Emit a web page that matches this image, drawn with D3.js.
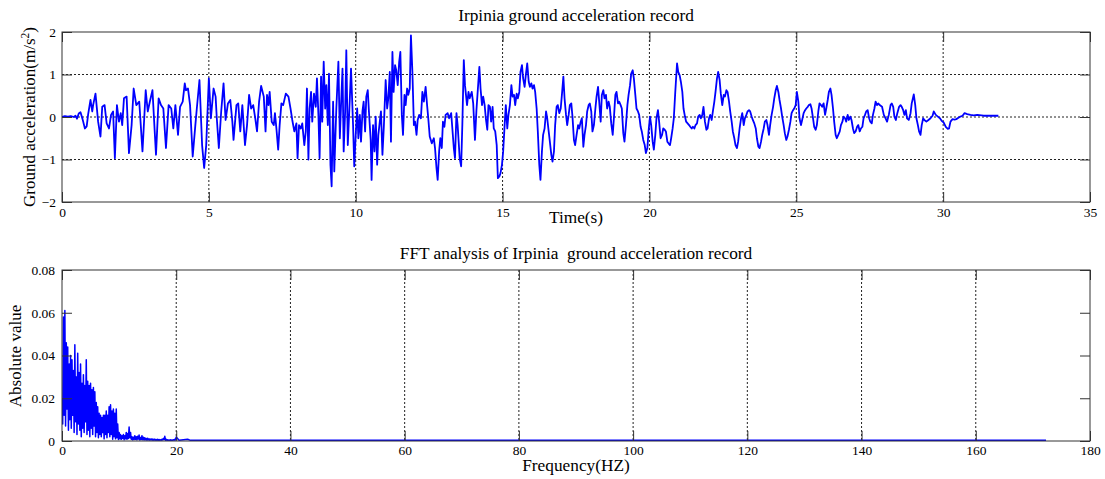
<!DOCTYPE html>
<html><head><meta charset="utf-8">
<script src="https://cdn.jsdelivr.net/npm/d3@7"></script>
<style>
body{margin:0;background:#fff;}
svg{display:block;}
text{font-family:"Liberation Serif","Times New Roman",serif;fill:#000;}
</style>
</head><body>
<svg id="chart" width="1105" height="479"></svg>
<script>
// ---------------- Data: Irpinia ground acceleration record ----------------
const accTime = [
0.00,0.10,0.20,0.30,0.40,0.46,0.51,0.57,0.63,0.70,
0.78,0.84,0.89,0.97,1.03,1.06,1.14,1.23,1.31,1.37,
1.45,1.52,1.60,1.67,1.74,1.80,1.87,1.94,2.00,2.05,
2.11,2.20,2.28,2.37,2.44,2.53,2.63,2.74,2.85,2.92,
2.99,3.08,3.20,3.29,3.37,3.45,3.54,3.63,3.72,3.79,
3.86,3.95,4.02,4.11,4.18,4.22,4.29,4.36,4.45,4.54,
4.59,4.68,4.77,4.84,4.91,5.00,5.07,5.16,5.23,5.27,
5.34,5.42,5.50,5.57,5.65,5.73,5.80,5.84,5.94,6.00,
6.07,6.14,6.23,6.30,6.37,6.44,6.51,6.58,6.64,6.71,
6.78,6.87,6.93,6.98,
7.03,7.07,7.14,7.21,7.25,7.30,7.36,7.41,7.47,7.53,
7.62,7.71,7.78,7.84,7.91,7.98,8.02,8.07,8.13,8.18,
8.25,8.30,8.34,8.39,8.43,8.48,8.52,8.58,8.64,8.68,
8.73,8.77,8.82,8.86,8.91,8.96,9.00,9.05,9.09,9.14,
9.18,9.23,9.27,9.34,9.41,9.46,9.50,9.55,9.59,9.64,
9.68,9.73,9.80,9.84,9.91,9.95,10.00,10.05,10.09,10.14,
10.18,10.23,10.27,10.32,10.36,10.41,10.45,10.51,10.54,10.59,
10.64,10.68,10.73,10.77,10.82,10.86,10.91,10.96,11.02,11.07,
11.11,11.16,11.20,11.25,11.29,11.34,11.38,11.43,11.48,11.52,
11.57,11.61,11.66,11.70,11.75,11.79,11.84,11.88,11.93,11.98,
12.02,12.07,12.11,12.16,12.22,12.27,12.32,12.38,12.43,12.47,
12.52,12.59,12.66,12.70,12.75,12.79,12.84,12.88,12.93,12.97,
13.02,13.06,13.13,13.18,13.25,13.29,13.34,13.38,13.43,13.47,
13.54,13.59,13.63,13.68,13.72,13.79,13.84,13.88,13.95,
14.00,14.06,14.11,14.16,14.21,14.25,14.30,14.34,14.39,14.43,
14.48,14.52,14.57,14.61,14.66,14.70,14.75,14.80,14.84,14.89,
14.93,14.98,15.02,15.07,15.11,15.16,15.20,15.25,15.30,15.34,
15.39,15.43,15.48,15.52,15.57,15.61,15.66,15.70,15.75,15.79,
15.84,15.89,15.93,15.98,16.02,16.07,16.11,16.16,16.20,16.25,
16.29,16.34,16.38,16.43,16.48,16.52,16.57,16.61,16.66,16.70,
16.75,16.79,16.84,16.88,16.93,16.98,17.02,17.07,17.11,17.16,
17.20,17.25,17.29,17.34,17.38,17.43,17.47,17.52,17.57,17.61,
17.66,17.70,17.75,17.79,17.84,17.88,17.93,17.97,18.02,18.06,
18.11,18.16,18.20,18.25,18.29,18.34,18.38,18.43,18.47,18.52,
18.56,18.61,18.65,18.70,18.75,18.79,18.84,18.88,18.93,18.97,
19.02,19.06,19.11,19.15,19.20,19.25,19.29,19.34,19.38,19.43,
19.47,19.52,19.56,19.61,19.65,19.70,19.74,19.79,19.84,19.88,
19.93,19.97,20.02,20.06,20.11,20.15,20.20,20.24,20.29,20.33,
20.38,20.43,20.47,20.52,20.56,20.61,20.65,20.70,20.74,20.79,
20.83,20.88,
20.94,20.98,21.03,21.07,21.12,21.16,21.21,21.25,21.30,21.35,
21.39,21.44,21.48,21.53,21.57,21.62,21.66,21.71,21.75,21.80,
21.84,21.89,21.94,21.98,22.03,22.07,22.12,22.16,22.21,22.25,
22.30,22.34,22.39,22.43,22.48,22.53,22.57,22.62,22.66,22.71,
22.75,22.80,22.84,22.89,22.93,22.98,23.02,23.07,23.12,23.16,
23.21,23.25,23.30,23.34,23.39,23.43,23.48,23.52,23.57,23.62,
23.66,23.71,23.75,23.80,23.84,23.89,23.93,23.98,24.02,24.07,
24.11,24.16,24.21,24.25,24.30,24.34,24.39,24.43,24.48,24.52,
24.57,24.61,24.66,24.70,24.75,24.80,24.84,24.89,24.93,24.98,
25.02,25.07,25.11,25.16,25.20,25.25,25.30,25.34,25.39,25.43,
25.48,25.52,25.57,25.61,25.66,25.70,25.75,25.79,25.84,25.88,
25.93,25.98,26.02,26.07,26.11,26.16,26.20,26.25,26.29,26.34,
26.38,26.43,26.48,26.52,26.57,26.61,26.66,26.70,26.75,26.79,
26.84,26.88,26.93,26.97,27.02,27.07,27.11,27.16,27.20,27.25,
27.29,27.34,27.38,27.43,27.48,27.52,27.57,27.61,27.66,27.70,
27.75,27.79,27.84,
27.92,27.98,28.04,28.09,28.15,28.21,28.25,28.30,28.34,28.39,
28.44,28.50,28.55,28.59,28.64,28.68,28.73,28.77,28.83,28.89,
28.93,29.00,29.05,29.09,29.14,29.18,29.23,29.27,29.32,29.36,
29.43,29.50,29.57,29.64,29.68,29.75,29.82,29.89,29.95,30.02,
30.09,30.16,30.20,30.25,30.32,30.39,30.45,30.52,30.59,30.66,
30.73,30.82,30.93,31.04,31.16,31.38,31.61,31.88
];
const accValue = [
0.00,0.02,0.01,0.02,0.00,0.03,-0.04,0.08,0.11,-0.05,
-0.27,-0.22,0.06,0.40,0.13,0.28,0.55,-0.11,-0.46,0.24,
0.28,-0.15,-0.27,0.05,0.13,-0.97,0.28,-0.11,0.09,-0.19,
0.44,0.48,-0.85,-0.19,0.67,0.28,0.36,-0.81,0.63,0.13,
0.36,0.63,-0.89,0.44,0.28,0.20,-0.73,0.28,0.20,-0.27,
0.28,-0.42,0.24,0.36,0.79,0.63,0.67,0.28,-0.93,-0.19,
0.20,0.87,-0.66,-1.20,-0.66,0.91,-0.03,0.67,0.48,-0.03,
-0.73,0.13,0.79,-0.07,0.32,0.40,-0.11,-0.54,0.28,0.32,
-0.34,0.28,-0.66,-0.19,0.52,0.20,0.28,-0.03,-0.34,0.36,
0.73,0.48,-0.34,0.52,
0.28,0.59,-0.11,-0.19,0.09,-0.27,-0.77,-0.19,0.32,0.28,
0.55,0.48,0.20,-0.07,-0.34,-0.15,-0.97,-0.19,-0.27,-0.15,
-0.66,-0.34,0.67,-1.00,0.20,0.59,-0.11,0.55,0.24,0.91,
0.05,-0.97,0.95,-0.11,1.30,0.20,0.75,-0.19,1.02,-1.12,
-1.63,0.36,-1.28,0.20,1.30,-0.50,0.28,1.14,-0.81,0.13,
1.57,-0.66,0.44,1.14,-0.19,-1.16,-0.42,0.20,-0.50,0.05,
-0.58,0.13,0.36,-0.34,0.48,0.63,0.13,-0.54,-1.48,-0.19,
-0.81,0.01,-1.12,-0.42,-0.11,0.13,-0.89,-0.19,0.87,0.20,
0.44,1.06,-0.58,1.53,0.59,1.22,1.10,0.75,1.30,1.53,
0.05,-0.42,0.52,0.28,0.67,0.52,0.67,1.92,1.06,-0.19,
-0.11,-0.42,-0.07,0.05,-0.03,0.59,0.36,0.71,0.28,-0.03,
-0.46,-0.62,-0.50,-0.73,-1.20,-1.48,-0.81,-0.50,-0.73,-0.11,
-0.23,0.05,0.09,-0.03,0.09,-0.27,-0.73,-0.97,0.09,-0.19,
-0.97,-1.16,-0.19,1.34,0.75,0.28,0.59,0.44,0.59,
0.32,-0.54,0.16,0.67,1.18,0.67,0.28,0.48,0.28,-0.03,
-0.30,0.28,0.24,-0.11,0.24,-0.27,-0.34,-0.66,-1.44,-1.40,
-1.32,-1.12,-0.81,-0.19,0.28,-0.27,0.05,0.28,0.75,0.48,
0.52,0.28,0.55,0.44,0.59,1.06,1.22,0.91,0.71,0.98,
1.26,0.83,0.71,0.79,0.67,0.75,0.59,0.20,-0.34,-1.12,
-1.48,-0.81,-0.42,-0.27,0.13,-0.03,-0.34,-0.58,-0.89,-1.05,
-0.81,-0.19,0.24,0.28,0.09,0.20,0.52,0.95,0.44,0.05,
-0.19,0.05,0.28,0.32,0.01,-0.54,-0.66,-0.42,-0.19,-0.27,
-0.11,-0.03,-0.70,-0.42,-0.19,0.13,0.28,0.32,0.13,-0.34,
-0.19,0.20,0.48,0.71,0.36,-0.11,0.52,0.63,0.44,0.52,
0.20,0.36,0.24,-0.15,-0.42,-0.03,0.52,0.59,0.32,0.36,
0.28,0.20,-0.38,-0.58,-0.19,0.28,0.52,0.75,1.02,1.10,
0.91,0.52,0.20,0.13,0.05,-0.23,-0.34,-0.54,-0.66,-0.85,
-0.73,-0.34,0.01,-0.19,-0.58,-0.77,-0.42,-0.03,0.16,-0.11,
-0.50,-0.42,-0.27,-0.30,-0.34,-0.58,-0.62,-0.66,-0.50,-0.27,
-0.03,0.59,
1.26,1.06,0.98,0.83,0.59,0.20,0.01,-0.11,-0.15,-0.19,
-0.23,-0.27,-0.23,-0.27,-0.19,-0.15,0.01,0.05,-0.03,0.05,
0.24,-0.11,-0.30,-0.27,-0.03,0.05,-0.07,0.13,0.36,0.59,
0.91,1.06,0.87,0.55,0.28,0.52,0.48,0.63,0.59,0.36,
0.13,-0.11,-0.34,-0.50,-0.66,-0.73,-0.58,-0.27,-0.03,0.09,
-0.19,-0.03,0.05,0.13,0.16,0.13,0.01,-0.07,-0.15,-0.27,
-0.50,-0.70,-0.73,-0.58,-0.42,-0.27,-0.11,-0.07,-0.19,-0.42,
-0.19,0.05,0.24,0.44,0.63,0.73,0.59,0.40,0.20,0.01,
-0.19,-0.38,-0.54,-0.46,-0.30,-0.11,0.09,0.16,0.20,0.28,
0.59,0.36,-0.03,-0.19,-0.07,0.09,0.16,0.20,0.24,0.28,
0.30,0.20,-0.03,-0.23,-0.30,-0.19,0.13,0.32,0.28,0.24,
0.32,0.05,0.20,0.40,0.59,0.67,0.52,0.20,-0.11,-0.42,
-0.50,-0.42,-0.34,-0.19,-0.11,0.01,-0.03,-0.11,0.05,-0.07,
0.01,-0.07,-0.27,-0.38,-0.34,-0.23,-0.19,-0.34,-0.27,-0.23,
-0.03,0.05,0.13,0.16,-0.03,-0.11,-0.15,0.05,0.20,0.36,
0.28,0.32,0.28,
0.24,0.05,-0.03,-0.11,0.05,0.28,0.32,0.24,0.01,-0.07,
0.09,0.24,0.28,0.24,0.16,0.05,0.16,-0.03,-0.07,0.09,
0.32,0.53,0.28,-0.03,-0.19,-0.34,-0.42,-0.19,-0.03,-0.07,
-0.11,-0.07,-0.03,0.03,0.13,0.05,0.01,-0.03,-0.09,-0.13,
-0.23,-0.28,-0.27,-0.11,-0.05,-0.06,-0.05,-0.02,0.01,0.03,
0.09,0.07,0.05,0.04,0.05,0.03,0.03,0.03
];
const accXTicks = [0,5,10,15,20,25,30,35];
const accYTicks = [-2,-1,0,1,2];

// ---------------- Data: FFT amplitude spectrum ----------------
const fftBinHz = 0.125;            // spacing of the dense part (0 - 20 Hz)
const fftAmp = [
0.020,0.008,0.058,0.012,0.061,0.007,0.046,0.015,0.044,0.005,
0.036,0.010,0.040,0.006,0.038,0.012,0.033,0.004,0.045,0.009,
0.030,0.003,0.041,0.008,0.032,0.005,0.036,0.002,0.027,0.006,
0.031,0.004,0.026,0.009,0.038,0.003,0.028,0.005,0.026,0.002,
0.027,0.006,0.024,0.003,0.025,0.007,0.023,0.002,0.018,0.004,
0.016,0.0015,0.013,0.003,0.012,0.002,0.011,0.004,0.012,0.001,
0.012,0.003,0.014,0.0015,0.012,0.004,0.016,0.002,0.017,0.003,
0.014,0.0008,0.015,0.002,0.013,0.001,0.015,0.0015,0.008,0.0007,
0.004,0.001,0.003,0.0008,0.0025,0.0012,0.003,0.0006,0.0025,0.001,
0.004,0.0008,0.0035,0.0012,0.0065,0.0015,0.004,0.0008,0.002,0.0006,
0.0018,0.0007,0.0025,0.0008,0.002,0.0006,0.0022,0.0009,0.0028,0.0005,
0.0016,0.0007,0.0025,0.0006,0.0018,0.0005,0.0015,0.0006,0.0012,0.0004,
0.0013,0.0005,0.001,0.0004,0.0009,0.0005,0.001,0.0004,0.0008,0.0004,
0.0009,0.0004,0.0007,0.0003,0.0008,0.0004,0.0007,0.0003,0.0006,0.0004,
0.0008,0.0005,0.0012,0.0006,0.0022,0.0004,0.0008,0.0003,0.0006,0.0003,
0.0005,0.0003,0.0006,0.0003,0.0005,0.0003,0.0006,0.0004,0.0008,0.0005,
0.0019
];
const fftTailFreq = [20.5, 22.0, 22.5, 172.3];
const fftTailAmp  = [0.0004, 0.0008, 0.0003, 0.0003];
const fftXTicks = [0,20,40,60,80,100,120,140,160,180];
const fftYTicks = [0,0.02,0.04,0.06,0.08];
const fftYTickLabels = ["0","0.02","0.04","0.06","0.08"];

// ---------------- Drawing ----------------
const svg = d3.select("#chart");
const plotL = 62, plotR = 1090, midX = (plotL + plotR) / 2;
const TICK = 10, AXIS = "#333";
const TICKFONT = 13.5, LABELFONT = 17.3;

function panel(opt) {
  const g = svg.append("g");
  const x = d3.scaleLinear().domain(opt.xDomain).range([plotL, plotR]);
  const y = d3.scaleLinear().domain(opt.yDomain).range([opt.bottom, opt.top]);
  const clipId = "clip" + opt.id;
  svg.append("clipPath").attr("id", clipId).append("rect")
    .attr("x", plotL).attr("y", opt.top).attr("width", plotR - plotL).attr("height", opt.bottom - opt.top);

  // grid
  g.append("g").selectAll("line").data(opt.xGrid).join("line")
    .attr("x1", d => x(d)).attr("x2", d => x(d)).attr("y1", opt.top).attr("y2", opt.bottom)
    .attr("stroke", "#222").attr("stroke-width", 1).attr("stroke-dasharray", "2,2");
  g.append("g").selectAll("line").data(opt.yGrid).join("line")
    .attr("y1", d => y(d)).attr("y2", d => y(d)).attr("x1", plotL).attr("x2", plotR)
    .attr("stroke", "#222").attr("stroke-width", 1).attr("stroke-dasharray", "2,2");

  // data
  const line = d3.line().x(d => x(d[0])).y(d => y(d[1]));
  g.append("path").datum(opt.points).attr("clip-path", `url(#${clipId})`)
    .attr("fill", "none").attr("stroke", "#0000ff").attr("stroke-width", opt.lw)
    .attr("stroke-linejoin", "round").attr("d", line);

  // axes (ticks inside)
  const axB = g.append("g").attr("transform", `translate(0,${opt.bottom})`)
    .call(d3.axisBottom(x).tickValues(opt.xTicks).tickSizeInner(-TICK).tickSizeOuter(0).tickPadding(opt.xPad).tickFormat(d3.format("d")));
  const axT = g.append("g").attr("transform", `translate(0,${opt.top})`)
    .call(d3.axisTop(x).tickValues(opt.xTicks).tickSizeInner(-TICK).tickSizeOuter(0).tickFormat(""));
  const axL = g.append("g").attr("transform", `translate(${plotL},0)`)
    .call(d3.axisLeft(y).tickValues(opt.yTicks).tickSizeInner(-TICK).tickSizeOuter(0).tickPadding(opt.yPad).tickFormat(opt.yFormat));
  const axR = g.append("g").attr("transform", `translate(${plotR},0)`)
    .call(d3.axisRight(y).tickValues(opt.yTicks).tickSizeInner(-TICK).tickSizeOuter(0).tickFormat(""));
  [axB, axT, axL, axR].forEach(a => {
    a.select(".domain").remove();
    a.selectAll(".tick line").attr("stroke", AXIS);
    a.selectAll("text").attr("font-family", "Liberation Serif").attr("font-size", TICKFONT).attr("fill", "#000");
  });
  g.append("rect").attr("x", plotL).attr("y", opt.top).attr("width", plotR - plotL).attr("height", opt.bottom - opt.top)
    .attr("fill", "none").attr("stroke", AXIS).attr("stroke-width", 1);
  return {x, y};
}

// top panel
const accPoints = accTime.map((t, i) => [t, accValue[i]]);
panel({
  id: "A", top: 32, bottom: 202, xDomain: [0, 35], yDomain: [-2, 2],
  xGrid: [5,10,15,20,25,30], yGrid: [-1,0,1],
  points: accPoints, lw: 1.8, xTicks: accXTicks, yTicks: accYTicks,
  xPad: 5, yPad: 6, yFormat: d3.format("d")
});

// bottom panel
const fftPoints = fftAmp.map((a, i) => [i * fftBinHz, a])
  .concat(fftTailFreq.map((f, i) => [f, fftTailAmp[i]]));
panel({
  id: "B", top: 270, bottom: 441, xDomain: [0, 180], yDomain: [0, 0.08],
  xGrid: [20,40,60,80,100,120,140,160], yGrid: [],
  points: fftPoints, lw: 1.5, xTicks: fftXTicks, yTicks: fftYTicks,
  xPad: 4, yPad: 7, yFormat: d => fftYTickLabels[fftYTicks.indexOf(d)]
});

// titles and axis labels
const T = (x, y, s, size) => svg.append("text").attr("x", x).attr("y", y)
  .attr("text-anchor", "middle").attr("font-size", size).text(s);
T(midX, 21, "Irpinia ground acceleration record", LABELFONT);
T(midX, 223, "Time(s)", LABELFONT);
T(midX, 259, "FFT analysis of Irpinia\u00a0 ground acceleration record", LABELFONT);
T(midX, 471, "Frequency(HZ)", LABELFONT);

const yl = svg.append("text").attr("transform", "translate(35,117) rotate(-90)")
  .attr("text-anchor", "middle").attr("font-size", 17);
yl.append("tspan").text("Ground acceleration(m/s");
yl.append("tspan").attr("font-size", 11.5).attr("dy", -6).text("2");
yl.append("tspan").attr("dy", 6).text(")");

svg.append("text").attr("transform", "translate(21,356) rotate(-90)")
  .attr("text-anchor", "middle").attr("font-size", 17).text("Absolute value");
</script>
</body></html>
